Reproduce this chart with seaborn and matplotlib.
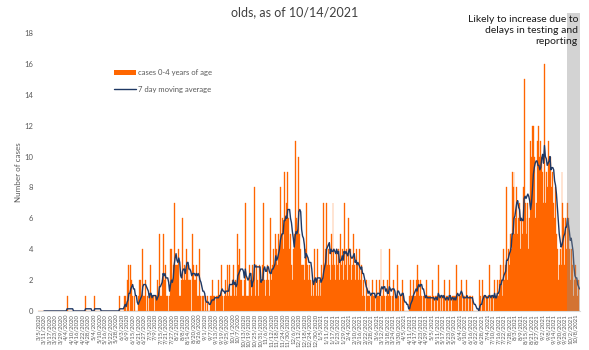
import numpy as np
import pandas as pd
import matplotlib
matplotlib.use("Agg")
import matplotlib.pyplot as plt
import seaborn as sns
from matplotlib.patches import Patch, Rectangle
from matplotlib.lines import Line2D

# Daily cases among children aged 0-4, by month
start_date = "2020-03-05"
end_date = "2021-10-12"

mar20 = [0, 0, 0, 0, 0, 0, 0, 0, 0, 0, 0, 0, 0, 0, 0, 0, 0, 0, 0, 0, 0, 0, 0, 0, 0, 0, 0]
apr20 = [0, 0, 0, 0, 1, 0, 0, 0, 0, 0, 0, 0, 0, 0, 0, 0, 0, 0, 0, 0, 0, 0, 0, 0, 1, 0, 0, 0, 0, 0]
may20 = [0, 0, 0, 0, 1, 0, 0, 0, 0, 0, 0, 0, 0, 0, 0, 0, 0, 0, 0, 0, 0, 0, 0, 0, 0, 0, 0, 0, 0, 0, 0]
jun20 = [1, 0, 0, 0, 0, 1, 1, 0, 2, 1, 3, 0, 3, 2, 1, 0, 1, 0, 0, 0, 1, 2, 1, 2, 1, 4, 1, 1, 2, 0]
jul20 = [1, 0, 1, 3, 1, 0, 1, 1, 0, 1, 1, 2, 1, 5, 1, 1, 2, 5, 1, 2, 3, 1, 1, 0, 1, 4, 4, 2, 3, 7, 3]
aug20 = [3, 1, 3, 4, 1, 1, 2, 6, 2, 3, 2, 4, 3, 2, 3, 2, 2, 0, 5, 3, 2, 2, 3, 1, 1, 4, 1, 1, 0, 1, 1]
sep20 = [0, 1, 0, 1, 0, 0, 1, 1, 2, 0, 1, 1, 0, 1, 1, 2, 1, 1, 3, 1, 0, 1, 1, 2, 1, 3, 1, 3, 1, 1]
oct20 = [2, 3, 1, 2, 1, 2, 5, 3, 4, 2, 2, 1, 1, 2, 7, 1, 1, 1, 2, 3, 2, 1, 3, 2, 8, 1, 3, 2, 1, 3, 2]
nov20 = [1, 2, 3, 7, 2, 1, 2, 3, 2, 1, 6, 2, 3, 2, 4, 3, 5, 4, 3, 5, 4, 8, 5, 6, 4, 9, 5, 6, 7, 9]
dec20 = [6, 4, 5, 3, 2, 4, 5, 11, 6, 4, 5, 10, 5, 4, 3, 3, 3, 2, 4, 7, 3, 2, 1, 3, 2, 1, 2, 1, 4, 2, 1]
jan21 = [4, 1, 2, 1, 2, 3, 2, 7, 3, 4, 7, 3, 4, 3, 2, 5, 3, 7, 4, 3, 2, 4, 3, 4, 2, 5, 3, 4, 2, 7, 3]
feb21 = [3, 4, 2, 6, 3, 4, 2, 3, 5, 3, 2, 4, 2, 3, 2, 4, 2, 3, 1, 2, 1, 0, 2, 1, 1, 2, 1, 0]
mar21 = [1, 2, 1, 1, 0, 2, 1, 1, 2, 0, 4, 1, 1, 2, 1, 0, 1, 2, 1, 4, 1, 0, 1, 1, 2, 0, 1, 1, 3, 1, 0]
apr21 = [1, 0, 2, 1, 0, 0, 0, 0, 0, 0, 1, 2, 1, 1, 2, 1, 1, 2, 1, 3, 2, 1, 2, 1, 0, 1, 1, 0, 2, 1]
may21 = [1, 0, 1, 1, 0, 2, 1, 0, 1, 1, 0, 3, 1, 0, 1, 1, 0, 1, 2, 0, 1, 1, 0, 2, 1, 0, 1, 1, 0, 1, 1]
jun21 = [3, 1, 0, 1, 1, 2, 0, 1, 1, 0, 1, 2, 1, 0, 1, 1, 0, 1, 0, 0, 0, 0, 0, 0, 0, 2, 1, 0, 2, 1]
jul21 = [1, 0, 1, 1, 0, 3, 1, 0, 1, 1, 0, 2, 1, 1, 2, 1, 2, 3, 2, 3, 1, 4, 2, 3, 8, 2, 4, 3, 5, 4, 9]
aug21 = [8, 9, 5, 6, 8, 5, 6, 7, 4, 6, 5, 8, 15, 7, 6, 5, 7, 4, 6, 11, 10, 12, 12, 10, 6, 7, 11, 8, 12, 10, 11]
sep21 = [10, 9, 7, 16, 7, 9, 8, 11, 10, 9, 10, 8, 9, 7, 6, 8, 5, 4, 2, 3, 4, 3, 9, 7, 6, 3, 6, 4, 7, 6]
oct21 = [4, 2, 4, 3, 1, 0, 2, 3, 2, 1, 2, 0]

# Most recent two weeks, still incomplete
pending_start = "2021-09-29"

cases = (mar20 + apr20 + may20 + jun20 + jul20 + aug20 + sep20 + oct20 + nov20 + dec20
         + jan21 + feb21 + mar21 + apr21 + may21 + jun21 + jul21 + aug21 + sep21 + oct21)
dates = pd.date_range(start_date, end_date, freq="D")

df = pd.DataFrame({"date": dates, "cases": cases})
df["pos"] = np.arange(len(df))
df["ma7"] = df["cases"].rolling(7).mean()

ORANGE = "#FF6600"
NAVY = "#1F3864"
GREY_TXT = "#595959"

sns.set_theme(style="white")
plt.rcParams["font.family"] = ["Lato", "DejaVu Sans"]

fig = plt.figure(figsize=(5.89, 3.5), dpi=100)
ax = fig.add_axes([38 / 589, 39 / 350, 542 / 589, 278 / 350])

sns.barplot(data=df, x="pos", y="cases", color=ORANGE, saturation=1, width=1.0,
            errorbar=None, linewidth=0.25, edgecolor=ORANGE, ax=ax)
sns.lineplot(data=df, x="pos", y="ma7", color=NAVY, linewidth=1.0, ax=ax, zorder=3)

n = len(df)
ax.set_xlim(-0.5, n - 0.5)
ax.set_ylim(0, 18)
ax.set_yticks(np.arange(0, 19, 2))
ax.tick_params(axis="y", labelsize=5.5, labelcolor=GREY_TXT, length=0, pad=3.5)

tick_idx = df["pos"].values[::6]
tick_lbl = [f"{d.month}/{d.day}/{d.year}" for d in df["date"].iloc[::6]]
ax.set_xticks(tick_idx)
ax.set_xticklabels(tick_lbl, rotation=90, fontsize=4.3, color=GREY_TXT)
ax.tick_params(axis="x", length=0, pad=2)

ax.set_xlabel("")
ax.set_ylabel("Number of cases", fontsize=5.8, color=GREY_TXT)
ax.yaxis.set_label_coords(-0.029, 0.5)

for side in ["top", "right", "left"]:
    ax.spines[side].set_visible(False)
ax.spines["bottom"].set_color("#D9D9D9")
ax.spines["bottom"].set_linewidth(0.8)

# shaded band over the incomplete reporting window
p0 = df.index[df["date"] == pd.Timestamp(pending_start)][0]
ax.add_patch(Rectangle((p0 - 0.5, 0), n - p0, 19.3, transform=ax.transData,
                       facecolor="#8A8A8A", alpha=0.37, linewidth=0,
                       clip_on=False, zorder=5))

handles = [Patch(facecolor=ORANGE, edgecolor="none", label="cases 0-4 years of age"),
           Line2D([0], [0], color=NAVY, lw=1.0, label="7 day moving average")]
ax.legend(handles=handles, loc="upper left", bbox_to_anchor=(0.128, 0.895),
          frameon=False, fontsize=5.5, handlelength=2.8, handleheight=0.6,
          labelspacing=1.3, handletextpad=0.3, labelcolor=GREY_TXT)

fig.text(0.5, 1 + 5.5 / 350,
         "Daily new COVID-19 cases reported by specimen collection date, by day among 0-4 year",
         ha="center", va="center", fontsize=9, color="#404040")
fig.text(0.5, 1 - 12 / 350, "olds, as of 10/14/2021",
         ha="center", va="center", fontsize=9, color="#404040")

fig.text(578 / 589, 1 - 15 / 350, "Likely to increase due to\ndelays in testing and\nreporting",
         ha="right", va="top", fontsize=7.5, color="#1A1A1A", linespacing=1.25, zorder=6)

fig.savefig("out.png", dpi=100)
